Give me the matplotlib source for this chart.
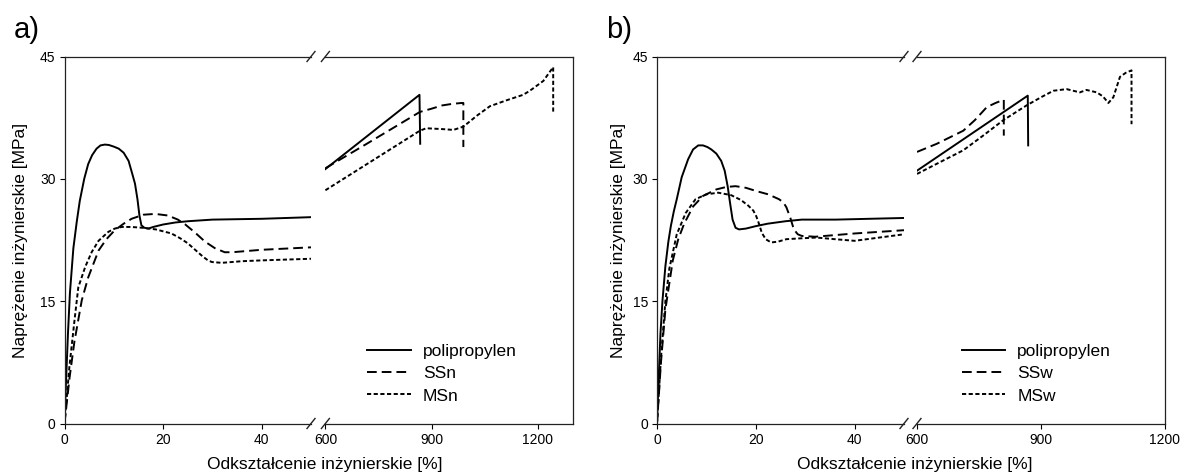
import matplotlib.pyplot as plt
from matplotlib.lines import Line2D

plt.rcParams['font.family'] = ['Liberation Sans', 'DejaVu Sans']
plt.rcParams['lines.scale_dashes'] = False

# ---- dane: panel a) ----
pp_a_x = [0, 0.3, 0.7, 1.1, 1.8, 2.5, 3.1, 4, 4.8, 5.6, 6.5, 7.3, 8.2, 9, 10, 11, 12, 13,
          13.8, 14.3, 14.8, 15.2, 15.6, 16.2, 17, 18, 20, 22.5, 25, 30, 35, 40, 45, 50]
pp_a_y = [0, 5, 11, 16, 21.5, 24.8, 27.3, 30, 31.8, 32.9, 33.7, 34.1, 34.2, 34.15, 33.95, 33.7, 33.2, 32.2,
          30.5, 29.4, 27.5, 25.5, 24.3, 24.0, 23.9, 24.1, 24.4, 24.65, 24.8, 25.0, 25.05, 25.1, 25.2, 25.3]
ssn_a_x = [0, 1, 2, 3.5, 4.8, 6.9, 8.5, 10.2, 12, 13.6, 16, 18.4, 21, 23, 24.5, 26.5, 28.5, 30.5, 32.5, 34, 36, 40, 45, 50]
ssn_a_y = [0, 5.5, 10, 15.1, 17.9, 21.2, 22.6, 23.7, 24.5, 25.1, 25.6, 25.7, 25.5, 25.0, 24.4, 23.4, 22.3, 21.5, 21.0, 21.0, 21.1, 21.3, 21.45, 21.6]
msn_a_x = [0, 1, 2, 2.8, 4.2, 5.5, 6.9, 8.9, 10.2, 11.6, 13.5, 15.8, 18.5, 21.7, 23.5, 25, 26.5, 28, 29.1, 29.9, 31.9, 36, 40, 45, 50]
msn_a_y = [0, 7, 12.5, 16.7, 19.2, 21.0, 22.4, 23.5, 23.9, 24.1, 24.1, 24.0, 23.8, 23.3, 22.7, 22.1, 21.3, 20.5, 20.0, 19.8, 19.7, 19.9, 20.0, 20.1, 20.2]

pp_a_rx = [600, 866, 868]
pp_a_ry = [31.2, 40.3, 34.3]
ssn_a_rx = [600, 717, 867, 900, 930, 960, 985, 990, 990]
ssn_a_ry = [31.3, 34.3, 38.2, 38.6, 39.0, 39.2, 39.3, 39.3, 33.9]
msn_a_rx = [600, 867, 885, 930, 962, 990, 1030, 1065, 1110, 1159, 1178, 1216, 1244, 1244]
msn_a_ry = [28.6, 35.9, 36.2, 36.1, 36.0, 36.4, 37.8, 38.9, 39.6, 40.3, 40.8, 42.0, 43.7, 38.2]

# ---- dane: panel b) ----
pp_b_x = [0, 0.3, 0.7, 1.1, 1.7, 2.3, 2.8, 3.4, 4, 5, 6.3, 7.3, 8.35, 9.3, 10.2, 11, 12, 13, 13.7,
          14.3, 14.8, 15.3, 15.9, 16.6, 18, 20, 22.4, 26, 29.3, 36.2, 43, 50]
pp_b_y = [0, 5, 11, 15, 19.3, 22.3, 24.2, 26, 27.5, 30.2, 32.4, 33.6, 34.1, 34.1, 33.9, 33.6, 33.1, 32.2, 31.0,
          29.1, 27.0, 25.0, 24.0, 23.8, 23.9, 24.2, 24.5, 24.8, 25.0, 25.0, 25.1, 25.2]
ssw_b_x = [0, 0.8, 1.7, 3.2, 4.3, 5.5, 7.3, 9.3, 12, 14, 15.9, 18, 20.1, 22.5, 24.7, 25.6, 26.2, 27, 27.7, 28.5, 29.3, 32, 36, 40, 45, 50]
ssw_b_y = [0, 7.5, 14, 20, 22.6, 24.5, 26.6, 27.9, 28.7, 29.0, 29.1, 28.9, 28.5, 28.1, 27.5, 27.1, 26.5, 25.2, 23.8, 23.2, 23.0, 22.9, 23.1, 23.3, 23.5, 23.7]
msw_b_x = [0, 0.8, 1.7, 2.5, 4, 5.8, 7.8, 10, 12.4, 15, 17, 18.5, 19.5, 20.1, 20.7, 21.2, 22, 23.1, 24.5, 26.2, 29, 32.3, 36, 40, 45, 50]
msw_b_y = [0, 8, 15, 19, 23.2, 25.8, 27.5, 28.1, 28.3, 28.0, 27.4, 26.7, 26.1, 25.4, 24.4, 23.4, 22.6, 22.2, 22.3, 22.6, 22.7, 22.8, 22.6, 22.4, 22.8, 23.2]

pp_b_rx = [600, 868, 869]
pp_b_ry = [31.0, 40.2, 34.1]
ssw_b_rx = [600, 648, 712, 740, 769, 790, 810, 810]
ssw_b_ry = [33.3, 34.3, 35.9, 37.2, 38.8, 39.3, 39.7, 35.3]
msw_b_rx = [600, 650, 712, 760, 809, 865, 900, 930, 962, 994, 1010, 1035, 1050, 1063, 1075, 1091, 1105, 1119, 1119]
msw_b_ry = [30.6, 31.9, 33.5, 35.3, 37.2, 39.0, 40.0, 40.8, 41.0, 40.6, 40.9, 40.6, 40.1, 39.3, 40.0, 42.5, 43.0, 43.3, 36.7]

y_ticks = [0, 15, 30, 45]
left_ticks = [0, 20, 40]
xlabel = 'Odkształcenie inżynierskie [%]'
ylabel = 'Naprężenie inżynierskie [MPa]'

W, H = 1182, 475
fig = plt.figure(figsize=(W / 100, H / 100), dpi=100)

styles = {
    'solid': dict(color='black', lw=1.4, ls='-'),
    'long': dict(color='black', lw=1.4, ls=(0, (7, 3.6))),
    'short': dict(color='black', lw=1.4, ls=(0, (3, 1.8))),
}

BOT, TOP = 423.5, 56.5


def fx(px):
    return px / W


def fy(py):
    return 1 - py / H


def slash(xp, yp):
    fig.add_artist(Line2D([fx(xp - 4), fx(xp + 4)], [fy(yp + 5), fy(yp - 5)],
                          color='#222222', lw=1.0))


def panel(l0, l1, r0, r1, rlim, rticks, left_data, right_data, labels, leg_anchor):
    axl = fig.add_axes([fx(l0), fy(BOT), fx(l1 - l0), (BOT - TOP) / H])
    axr = fig.add_axes([fx(r0), fy(BOT), fx(r1 - r0), (BOT - TOP) / H])
    for (x, y), st in zip(left_data, ['solid', 'long', 'short']):
        axl.plot(x, y, **styles[st])
    handles = []
    for (x, y), st in zip(right_data, ['solid', 'long', 'short']):
        h, = axr.plot(x, y, **styles[st])
        handles.append(h)
    axl.set_xlim(0, 50)
    axr.set_xlim(*rlim)
    for ax in (axl, axr):
        ax.set_ylim(0, 45)
        ax.set_yticks(y_ticks)
        ax.tick_params(direction='out', length=3.5, width=0.8, labelsize=10, pad=3)
        for sp in ax.spines.values():
            sp.set_linewidth(0.9)
            sp.set_color('#222222')
        ax.patch.set_alpha(0)
    axl.set_xticks(left_ticks)
    axr.set_xticks(rticks)
    axl.spines['right'].set_visible(False)
    axr.spines['left'].set_visible(False)
    axr.tick_params(axis='y', left=False, labelleft=False)
    axr.legend(handles, labels, loc='upper left', bbox_to_anchor=leg_anchor,
               frameon=False, fontsize=12.5, handlelength=2.5, handletextpad=0.7,
               labelspacing=0.42, borderpad=0, borderaxespad=0)
    for xp in (l1, r0):
        slash(xp, BOT)
        slash(xp, TOP)
    return axl, axr


panel(64.5, 311, 325.4, 573, (600, 1300), [600, 900, 1200],
      [(pp_a_x, pp_a_y), (ssn_a_x, ssn_a_y), (msn_a_x, msn_a_y)],
      [(pp_a_rx, pp_a_ry), (ssn_a_rx, ssn_a_ry), (msn_a_rx, msn_a_ry)],
      ['polipropylen', 'SSn', 'MSn'], (0.17, 0.218))

panel(657, 904, 917, 1165, (600, 1200), [600, 900, 1200],
      [(pp_b_x, pp_b_y), (ssw_b_x, ssw_b_y), (msw_b_x, msw_b_y)],
      [(pp_b_rx, pp_b_ry), (ssw_b_rx, ssw_b_ry), (msw_b_rx, msw_b_ry)],
      ['polipropylen', 'SSw', 'MSw'], (0.18, 0.218))

fig.text(fx(325), fy(465), xlabel, ha='center', va='center', fontsize=12.5)
fig.text(fx(915), fy(465), xlabel, ha='center', va='center', fontsize=12.5)
fig.text(fx(21), fy(240), ylabel, ha='center', va='center', rotation=90, fontsize=12.5)
fig.text(fx(618), fy(240), ylabel, ha='center', va='center', rotation=90, fontsize=12.5)
fig.text(fx(14), fy(30), 'a)', ha='left', va='center', fontsize=21)
fig.text(fx(606), fy(30), 'b)', ha='left', va='center', fontsize=21)

fig.savefig('out.png', dpi=100)
